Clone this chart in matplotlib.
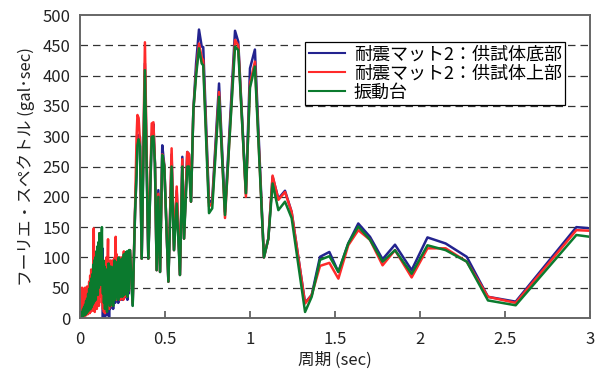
import matplotlib
matplotlib.use("Agg")
import matplotlib.pyplot as plt

plt.rcParams['font.family'] = ['Noto Sans CJK JP', 'DejaVu Sans']

# --- データ ---
# 短周期側 (ノイズ状の部分)
period_low = [0.003, 0.006, 0.009, 0.012, 0.015, 0.018, 0.021, 0.024, 0.027, 0.030,
              0.033, 0.036, 0.039, 0.042, 0.045, 0.048, 0.051, 0.054, 0.057, 0.060,
              0.063, 0.066, 0.069, 0.072, 0.075, 0.078, 0.081, 0.084, 0.087, 0.090,
              0.093, 0.096, 0.099, 0.102, 0.105, 0.108, 0.111, 0.114, 0.117, 0.120,
              0.123, 0.126, 0.129, 0.132, 0.135, 0.138, 0.141, 0.144, 0.147, 0.150,
              0.153, 0.156, 0.159, 0.162, 0.165, 0.168, 0.171, 0.174, 0.177, 0.180,
              0.183, 0.186, 0.189, 0.192, 0.195, 0.198, 0.201, 0.204, 0.207, 0.210,
              0.213, 0.216, 0.219, 0.222, 0.225, 0.228, 0.231, 0.234, 0.237, 0.240,
              0.243, 0.246, 0.249, 0.252, 0.255, 0.258, 0.261, 0.264, 0.267, 0.270,
              0.273, 0.276, 0.279, 0.282, 0.285, 0.288]
base_low = [1, 5, 1, 9, 2, 13, 3, 17, 4, 20,
            5, 26, 7, 30, 9, 38, 11, 45, 12, 55,
            14, 62, 16, 70, 20, 85, 22, 92, 25, 98,
            28, 105, 40, 115, 35, 120, 45, 135, 55, 125,
            50, 140, 65, 115, 0, 90, 20, 80, 0, 65,
            15, 75, 5, 70, 20, 85, 0, 65, 15, 80,
            20, 70, 30, 75, 15, 80, 35, 90, 25, 85,
            30, 88, 35, 80, 25, 95, 40, 90, 30, 85,
            35, 95, 30, 88, 40, 100, 33, 95, 45, 104,
            35, 105, 30, 100, 40, 108]
top_low = [3, 45, 2, 50, 5, 48, 3, 46, 8, 50,
           4, 45, 10, 52, 6, 48, 12, 60, 8, 70,
           10, 80, 15, 65, 12, 90, 148, 20, 10, 100,
           25, 95, 15, 110, 30, 120, 20, 140, 40, 100,
           35, 110, 25, 95, 15, 85, 10, 90, 8, 75,
           20, 100, 15, 90, 130, 25, 15, 80, 25, 95,
           20, 60, 30, 95, 40, 85, 30, 100, 35, 134,
           30, 105, 40, 95, 35, 90, 40, 100, 30, 95,
           35, 100, 40, 90, 30, 110, 45, 95, 40, 100,
           35, 108, 40, 100, 45, 105]
table_low = [1, 6, 2, 10, 3, 14, 4, 18, 5, 22,
             6, 28, 8, 32, 10, 40, 12, 48, 14, 58,
             15, 65, 18, 72, 22, 88, 25, 95, 28, 100,
             30, 110, 45, 118, 38, 125, 50, 140, 60, 130,
             55, 120, 150, 70, 40, 95, 25, 85, 15, 70,
             20, 80, 10, 75, 25, 90, 30, 70, 20, 85,
             25, 75, 35, 80, 20, 85, 40, 95, 30, 88,
             35, 92, 40, 85, 30, 100, 45, 95, 35, 90,
             40, 98, 35, 92, 45, 105, 38, 100, 50, 108,
             40, 110, 35, 105, 45, 112]

# 長周期側
period_high = [0.294, 0.310, 0.324, 0.333, 0.338, 0.345, 0.353, 0.363, 0.382, 0.402,
               0.422, 0.432, 0.441, 0.451, 0.461, 0.471, 0.484, 0.496, 0.520, 0.539,
               0.553, 0.569, 0.588, 0.602, 0.612, 0.631, 0.641, 0.653, 0.667, 0.683,
               0.700, 0.716, 0.725, 0.759, 0.778, 0.818, 0.853, 0.912, 0.931, 0.976,
               1.000, 1.029, 1.082, 1.108, 1.133, 1.167, 1.206, 1.245, 1.324, 1.363,
               1.412, 1.467, 1.520, 1.578, 1.637, 1.706, 1.780, 1.853, 1.951, 2.044,
               2.151, 2.275, 2.400, 2.563, 2.920, 3.000]
base_high = [112, 21, 175, 240, 300, 302, 299, 98, 420, 98,
             300, 320, 255, 79, 211, 76, 285, 252, 60, 270,
             112, 210, 71, 266, 131, 274, 270, 192, 343, 420,
             476, 448, 447, 190, 195, 387, 175, 474, 456, 205,
             412, 443, 100, 131, 233, 197, 210, 175, 25, 38,
             101, 109, 76, 123, 156, 134, 97, 121, 79, 133,
             123, 101, 35, 27, 150, 148]
top_high = [112, 25, 180, 300, 335, 330, 290, 98, 455, 98,
            321, 323, 255, 79, 205, 76, 270, 252, 60, 280,
            112, 217, 71, 262, 131, 274, 271, 192, 343, 405,
            453, 430, 425, 184, 190, 373, 165, 459, 450, 200,
            387, 423, 100, 131, 235, 195, 208, 175, 24, 38,
            86, 91, 65, 120, 145, 129, 87, 112, 67, 115,
            115, 93, 35, 25, 145, 144]
table_high = [112, 20, 175, 239, 285, 295, 283, 98, 409, 98,
              299, 300, 255, 79, 200, 76, 269, 250, 60, 250,
              112, 189, 71, 250, 131, 250, 250, 192, 343, 400,
              445, 420, 417, 173, 181, 365, 170, 448, 442, 206,
              380, 415, 100, 131, 222, 178, 192, 165, 10, 35,
              96, 102, 76, 123, 151, 129, 93, 112, 73, 120,
              112, 93, 29, 21, 137, 134]

period = period_low + period_high
base = base_low + base_high
top = top_low + top_high
table = table_low + table_high

labels = ["耐震マット2：供試体底部", "耐震マット2：供試体上部", "振動台"]
colors = ["#23238f", "#ff2a2a", "#0b7a2e"]

# --- 描画 ---
fig = plt.figure(figsize=(6.0, 3.82), dpi=100)
ax = fig.add_axes([0.1333, 0.1675, 0.85, 0.7932])

for y in range(50, 500, 50):
    ax.axhline(y, color="#333333", linestyle=(0, (6, 4)), linewidth=0.9, zorder=1)

for vals, lab, col in zip([base, top, table], labels, colors):
    ax.plot(period, vals, color=col, linewidth=1.8, label=lab, zorder=2)

ax.set_xlim(0, 3)
ax.set_ylim(0, 500)
ax.set_xticks([0, 0.5, 1, 1.5, 2, 2.5, 3])
ax.set_xticklabels(["0", "0.5", "1", "1.5", "2", "2.5", "3"])
ax.set_yticks(range(0, 501, 50))
ax.tick_params(axis="x", direction="in", length=5, width=1.2, color="#555555",
               labelsize=12, pad=9, labelcolor="#222222")
ax.tick_params(axis="y", length=0, labelsize=12, pad=7, labelcolor="#222222")
for sp in ax.spines.values():
    sp.set_color("#666666")
    sp.set_linewidth(1.4)

ax.set_xlabel("周期 (sec)", fontsize=12, color="#222222", labelpad=3)
ax.set_ylabel("フーリエ・スペクトル (gal･sec)", fontsize=12, color="#222222", labelpad=5)

leg = ax.legend(loc="upper left", bbox_to_anchor=(0.441, 0.911), fontsize=13,
                frameon=True, fancybox=False, edgecolor="black", framealpha=1,
                handlelength=2.0, handletextpad=0.5, borderpad=0.2, labelspacing=0.05,
                borderaxespad=0)
leg.get_frame().set_linewidth(0.9)
for line in leg.get_lines():
    line.set_linewidth(1.5)

fig.savefig("out.png", dpi=100)
